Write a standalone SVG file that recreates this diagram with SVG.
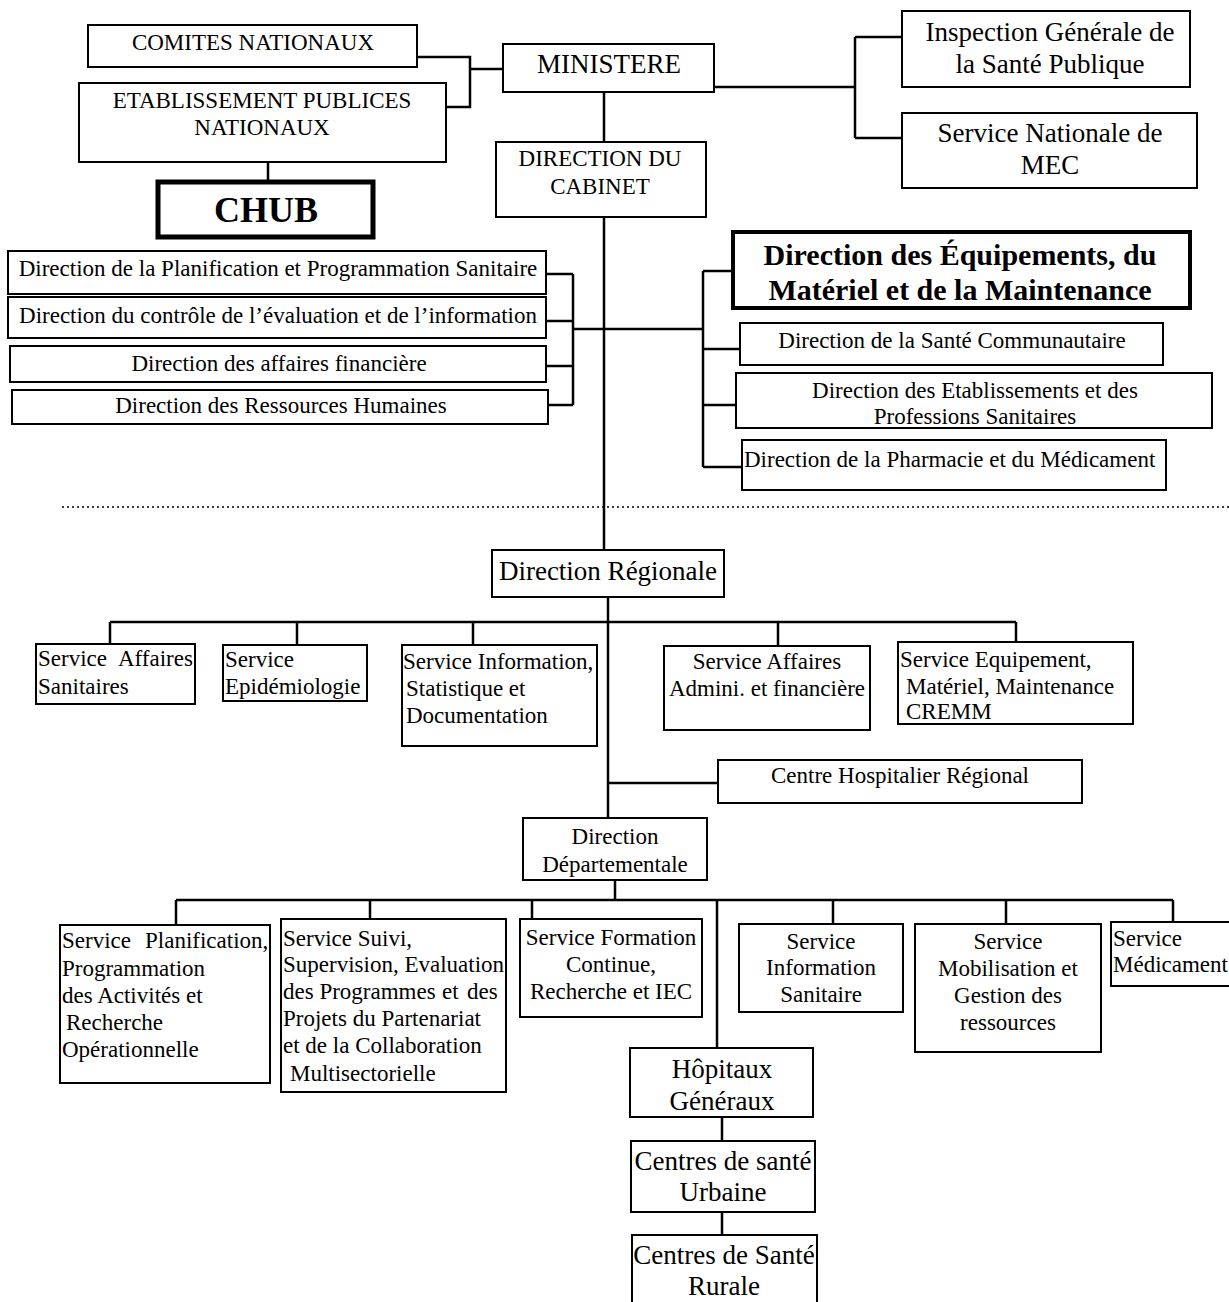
<svg xmlns="http://www.w3.org/2000/svg" width="1229" height="1302" viewBox="0 0 1229 1302">
<style>
.b{fill:#fff;stroke:#000;stroke-width:2}
.bt{fill:#fff;stroke:#000;stroke-width:5}
.c{fill:none;stroke:#000;stroke-width:2.5}
text{font-family:"Liberation Serif","Times New Roman",serif;font-size:23px;fill:#000}
.m{text-anchor:middle}
.l27{font-size:27px}
.bold{font-weight:bold}
</style>
<rect width="1229" height="1302" fill="#fff"/>
<g id="connectors">
<path class="c" d="M417 57H470V107H446M470 69H503"/>
<path class="c" d="M714 87H855M855 37V138M855 37H902M855 138H902"/>
<path class="c" d="M268 162V182"/>
<path class="c" d="M604 92V142M604 217V550"/>
<path class="c" d="M546 274H573M546 321H573M546 366H573M548 405H573M573 274V405M573 329H703"/>
<path class="c" d="M703 271V467M703 271H733M703 349H740M703 405H736M703 467H742"/>
<path class="c" d="M608 597V818M110 622H1016M110 622V644M297 622V645M473 622V645M778 622V646M1016 622V642M608 783H718"/>
<path class="c" d="M615 880V900M176 900H1173M176 900V925M370 900V919M532 900V918M717 900V1048M833 900V924M1006 900V924M1173 900V922"/>
<path class="c" d="M722 1117V1141M722 1212V1235"/>
<line x1="62" y1="507" x2="1229" y2="507" stroke="#000" stroke-width="1.5" stroke-dasharray="2 3"/>
</g>
<g id="comites"><rect class="b" x="88" y="25" width="329" height="42"/><text class="m" x="253" y="50">COMITES NATIONAUX</text></g>
<g id="etab"><rect class="b" x="79" y="83" width="367" height="79"/><text class="m" x="262" y="108">ETABLISSEMENT PUBLICES</text><text class="m" x="262" y="135">NATIONAUX</text></g>
<g id="chub"><rect class="bt" x="158" y="182" width="215" height="55"/><text class="m bold" x="266" y="222" style="font-size:36px">CHUB</text></g>
<g id="ministere"><rect class="b" x="503" y="44" width="211" height="48"/><text class="m l27" x="609" y="73">MINISTERE</text></g>
<g id="cabinet"><rect class="b" x="496" y="142" width="210" height="75"/><text class="m" x="600" y="166">DIRECTION DU</text><text class="m" x="600" y="194">CABINET</text></g>
<g id="igsp"><rect class="b" x="902" y="11" width="288" height="76"/><text class="m l27" x="1050" y="41">Inspection Générale de</text><text class="m l27" x="1050" y="73">la Santé Publique</text></g>
<g id="snmec"><rect class="b" x="902" y="113" width="295" height="75"/><text class="m l27" x="1050" y="142">Service Nationale de</text><text class="m l27" x="1050" y="174">MEC</text></g>
<g id="dpps"><rect class="b" x="8" y="251" width="538" height="43"/><text class="m" x="278" y="276">Direction de la Planification et Programmation Sanitaire</text></g>
<g id="dcei"><rect class="b" x="8" y="297" width="538" height="41"/><text class="m" x="278" y="323">Direction du contrôle de l’évaluation et de l’information</text></g>
<g id="daf"><rect class="b" x="10" y="346" width="536" height="36"/><text class="m" x="279" y="371">Direction des affaires financière</text></g>
<g id="drh"><rect class="b" x="12" y="390" width="536" height="34"/><text class="m" x="281" y="413">Direction des Ressources Humaines</text></g>
<g id="demm"><rect class="b" x="733" y="232" width="457" height="76" style="stroke-width:4"/><text class="m bold" x="960" y="265" style="font-size:30px">Direction des Équipements, du</text><text class="m bold" x="960" y="300" style="font-size:30px">Matériel et de la Maintenance</text></g>
<g id="dsc"><rect class="b" x="740" y="323" width="423" height="42"/><text class="m" x="952" y="348">Direction de la Santé Communautaire</text></g>
<g id="deps"><rect class="b" x="736" y="373" width="476" height="55"/><text class="m" x="975" y="398">Direction des Etablissements et des</text><text class="m" x="975" y="424">Professions Sanitaires</text></g>
<g id="dpm"><rect class="b" x="742" y="440" width="424" height="50"/><text x="744" y="467">Direction de la Pharmacie et du Médicament</text></g>
<g id="dreg"><rect class="b" x="492" y="550" width="232" height="47"/><text class="m l27" x="608" y="580">Direction Régionale</text></g>
<g id="sas"><rect class="b" x="36" y="644" width="159" height="60"/><text y="666"><tspan x="38">Service</tspan><tspan x="118">Affaires</tspan></text><text x="38" y="694">Sanitaires</text></g>
<g id="sepi"><rect class="b" x="223" y="645" width="144" height="56"/><text x="225" y="667">Service</text><text x="225" y="694">Epidémiologie</text></g>
<g id="sisd"><rect class="b" x="402" y="645" width="195" height="101"/><text x="403" y="669">Service Information,</text><text x="406" y="696">Statistique et</text><text x="406" y="723">Documentation</text></g>
<g id="saaf"><rect class="b" x="664" y="646" width="206" height="84"/><text class="m" x="767" y="669">Service Affaires</text><text class="m" x="767" y="696">Admini. et financière</text></g>
<g id="semm"><rect class="b" x="898" y="642" width="235" height="82"/><text x="900" y="667">Service Equipement,</text><text x="906" y="694">Matériel, Maintenance</text><text x="906" y="719">CREMM</text></g>
<g id="chr"><rect class="b" x="718" y="760" width="364" height="43"/><text class="m" x="900" y="783">Centre Hospitalier Régional</text></g>
<g id="ddep"><rect class="b" x="523" y="818" width="184" height="62"/><text class="m" x="615" y="844">Direction</text><text class="m" x="615" y="872">Départementale</text></g>
<g id="spla"><rect class="b" x="60" y="925" width="210" height="158"/><text y="948"><tspan x="62">Service</tspan><tspan x="145">Planification,</tspan></text><text x="62" y="976">Programmation</text><text x="62" y="1003">des Activités et</text><text x="66" y="1030">Recherche</text><text x="62" y="1057">Opérationnelle</text></g>
<g id="ssui"><rect class="b" x="281" y="919" width="225" height="173"/><text x="283" y="946">Service Suivi,</text><text x="283" y="972">Supervision, Evaluation</text><text y="999"><tspan x="283">des Programmes</tspan><tspan x="442">et</tspan><tspan x="467">des</tspan></text><text x="283" y="1026">Projets du Partenariat</text><text x="283" y="1053">et de la Collaboration</text><text x="290" y="1081">Multisectorielle</text></g>
<g id="sfor"><rect class="b" x="520" y="919" width="182" height="98"/><text class="m" x="611" y="945">Service Formation</text><text class="m" x="611" y="972">Continue,</text><text class="m" x="611" y="999">Recherche et IEC</text></g>
<g id="sis"><rect class="b" x="739" y="924" width="164" height="88"/><text class="m" x="821" y="949">Service</text><text class="m" x="821" y="975">Information</text><text class="m" x="821" y="1002">Sanitaire</text></g>
<g id="smg"><rect class="b" x="915" y="924" width="186" height="128"/><text class="m" x="1008" y="949">Service</text><text class="m" x="1008" y="976">Mobilisation et</text><text class="m" x="1008" y="1003">Gestion des</text><text class="m" x="1008" y="1030">ressources</text></g>
<g id="smed"><rect class="b" x="1111" y="922" width="125" height="64"/><text x="1113" y="946">Service</text><text x="1113" y="972">Médicament</text></g>
<g id="hop"><rect class="b" x="630" y="1048" width="183" height="69"/><text class="m l27" x="722" y="1078">Hôpitaux</text><text class="m l27" x="722" y="1110">Généraux</text></g>
<g id="csu"><rect class="b" x="631" y="1141" width="184" height="71"/><text class="m l27" x="723" y="1170">Centres de santé</text><text class="m l27" x="723" y="1201">Urbaine</text></g>
<g id="csr"><rect class="b" x="632" y="1235" width="185" height="72"/><text class="m l27" x="724" y="1264">Centres de Santé</text><text class="m l27" x="724" y="1295">Rurale</text></g>
</svg>
